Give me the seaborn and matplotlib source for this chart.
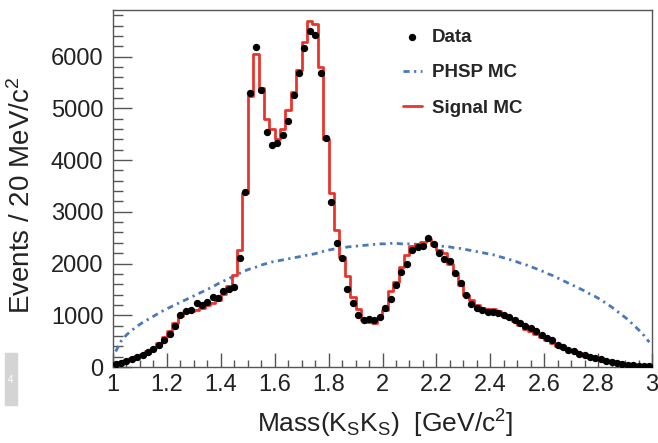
import numpy as np
import pandas as pd
import matplotlib
matplotlib.use("Agg")
import matplotlib.pyplot as plt
import seaborn as sns
from matplotlib.ticker import MultipleLocator
from matplotlib.patches import Rectangle

# ---------------- data (20 MeV bins from 1.0 to 3.0 GeV) ----------------
bin_edges = [round(1.0 + 0.02 * k, 2) for k in range(101)]
bin_centers = [round(1.01 + 0.02 * k, 2) for k in range(100)]

data_counts = [
    50, 80, 120, 160, 200, 240, 290, 340, 420, 530,
    640, 800, 1000, 1080, 1100, 1230, 1200, 1260, 1360, 1340,
    1470, 1510, 1540, 2100, 3390, 5300, 6190, 5350, 4550, 4300,
    4320, 4490, 4750, 5260, 5680, 6160, 6500, 6420, 5680, 4420,
    3180, 2390, 2100, 1500, 1230, 1000, 910, 920, 910, 970,
    1150, 1320, 1590, 1840, 2000, 2260, 2310, 2330, 2490, 2380,
    2200, 2080, 2040, 1810, 1620, 1390, 1220, 1140, 1100, 1070,
    1060, 1040, 1000, 960, 910, 850, 790, 750, 690, 620,
    570, 520, 430, 380, 330, 300, 260, 230, 200, 180,
    160, 120, 90, 70, 55, 45, 35, 25, 20, 25,
]

signal_mc = [
    60, 100, 140, 180, 210, 250, 300, 370, 460, 580,
    700, 860, 990, 1060, 1090, 1110, 1150, 1200, 1240, 1300,
    1420, 1560, 1780, 2260, 3360, 5230, 6040, 5400, 4800, 4600,
    4400, 4600, 4970, 5320, 5740, 6290, 6680, 6630, 5800, 4400,
    3360, 2650, 2130, 1750, 1360, 1130, 910, 870, 845, 940,
    1100, 1460, 1650, 1940, 2170, 2330, 2380, 2420, 2470, 2360,
    2260, 2200, 2000, 1810, 1590, 1390, 1300, 1200, 1140, 1130,
    1120, 1080, 1010, 950, 880, 810, 740, 690, 640, 580,
    530, 470, 400, 360, 330, 300, 270, 240, 210, 190,
    165, 140, 115, 95, 80, 60, 50, 40, 25, 35,
]

phsp_mc = [
    300, 500, 620, 710, 790, 860, 920, 980, 1040, 1100,
    1150, 1200, 1250, 1300, 1350, 1400, 1450, 1500, 1550, 1610,
    1660, 1710, 1760, 1810, 1860, 1900, 1930, 1970, 2000, 2030,
    2050, 2070, 2090, 2110, 2130, 2150, 2170, 2190, 2220, 2250,
    2270, 2290, 2300, 2320, 2330, 2340, 2350, 2360, 2370, 2380,
    2380, 2390, 2390, 2380, 2380, 2380, 2370, 2370, 2360, 2350,
    2340, 2330, 2320, 2300, 2290, 2270, 2250, 2230, 2210, 2190,
    2170, 2140, 2110, 2080, 2050, 2010, 1980, 1940, 1900, 1860,
    1810, 1770, 1720, 1670, 1620, 1570, 1520, 1470, 1410, 1360,
    1300, 1230, 1160, 1080, 1000, 920, 820, 720, 610, 480,
]

x_ticks = [1, 1.2, 1.4, 1.6, 1.8, 2, 2.2, 2.4, 2.6, 2.8, 3]
x_tick_labels = ["1", "1.2", "1.4", "1.6", "1.8", "2", "2.2", "2.4", "2.6", "2.8", "3"]
y_ticks = [0, 1000, 2000, 3000, 4000, 5000, 6000]

df = pd.DataFrame({"mass": bin_centers, "data": data_counts,
                   "signal": signal_mc, "phsp": phsp_mc})

# ---------------- style ----------------
sns.set_style("ticks")
plt.rcParams["font.family"] = ["Liberation Sans", "DejaVu Sans"]
plt.rcParams["mathtext.default"] = "regular"

RED = "#e8352b"
BLUE = "#4a78b8"

fig = plt.figure(figsize=(6.58, 4.43), dpi=100)
ax = fig.add_axes([113 / 658, 76 / 443, 539 / 658, 357 / 443])

sns.lineplot(data=df, x="mass", y="phsp", ax=ax, color=BLUE, lw=2.0,
             linestyle=(0, (2.2, 1.6, 0.8, 1.6)), label="PHSP MC")
sns.histplot(data=df, x="mass", weights="signal", bins=bin_edges,
             element="step", fill=False, color=RED, lw=2.0, ax=ax,
             label="Signal MC")
sns.scatterplot(data=df, x="mass", y="data", ax=ax, color="black",
                s=28, linewidth=0, zorder=5, label="Data")

ax.set_xlim(1, 3)
ax.set_ylim(0, 6900)
ax.set_xticks(x_ticks)
ax.set_xticklabels(x_tick_labels)
ax.set_yticks(y_ticks)
ax.xaxis.set_minor_locator(MultipleLocator(0.05))
ax.yaxis.set_minor_locator(MultipleLocator(200))
ax.tick_params(which="both", direction="in", top=False, right=False,
               colors="#555555", labelcolor="#222222", labelsize=17)
ax.tick_params(axis="y", which="major", length=14, width=1, pad=7)
ax.tick_params(axis="y", which="minor", length=7, width=1)
ax.tick_params(axis="x", which="major", length=10, width=1, pad=5)
ax.tick_params(axis="x", which="minor", length=5, width=1)
for s in ax.spines.values():
    s.set_color("#555555")
    s.set_linewidth(1.0)
    s.set_visible(True)

ax.set_xlabel(r"Mass(K$_S$K$_S$)  [GeV/c$^2$]", fontsize=19, color="#222222")
ax.set_ylabel(r"Events / 20 MeV/c$^2$", fontsize=20, color="#222222")
ax.xaxis.set_label_coords(0.505, -0.115)
ax.yaxis.set_label_coords(-0.143, 0.48)

handles, labels = ax.get_legend_handles_labels()
order = [labels.index("Data"), labels.index("PHSP MC"), labels.index("Signal MC")]
ax.legend([handles[i] for i in order], [labels[i] for i in order],
          loc="upper left", bbox_to_anchor=(403 / 658, 1 - 29 / 443),
          bbox_transform=fig.transFigure, frameon=False,
          prop={"weight": "bold", "size": 13.5}, handlelength=1.0,
          handletextpad=0.55, labelspacing=0.97, borderpad=0, borderaxespad=0)

# small page tag at lower left
fig.patches.append(Rectangle((5 / 658, 1 - 405 / 443), 12 / 658, 52 / 443,
                             transform=fig.transFigure, color="#d4d4d4", zorder=0))
fig.text(11 / 658, 1 - 380 / 443, "4", color="white", fontsize=7,
         ha="center", va="center")

fig.savefig("out.png", dpi=100)
